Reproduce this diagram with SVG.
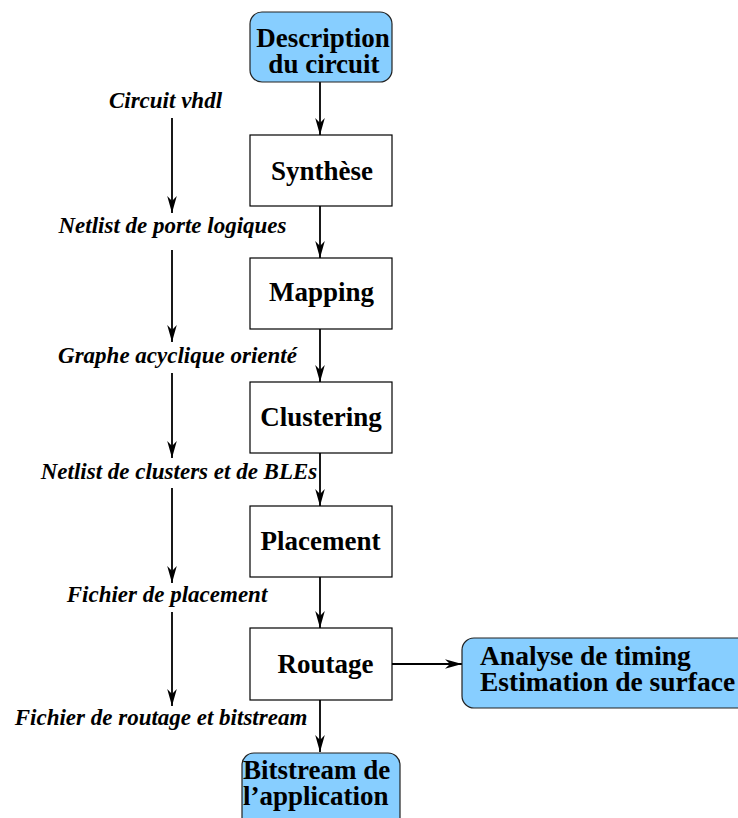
<svg xmlns="http://www.w3.org/2000/svg" width="738" height="818" viewBox="0 0 738 818">
<defs>
<style>
.box{fill:#fff;stroke:#000;stroke-width:1.2}
.rbox{fill:#87CEFF;stroke:#222;stroke-width:1.2}
.t{font-family:"Liberation Serif","Times New Roman",serif;font-weight:bold;font-size:27px;fill:#000}
.l{font-family:"Liberation Serif","Times New Roman",serif;font-weight:bold;font-style:italic;font-size:23px;fill:#000}
.c{stroke:#000;stroke-width:1.8;fill:none;marker-end:url(#ah)}
</style>
<marker id="ah" markerUnits="userSpaceOnUse" markerWidth="20" markerHeight="12" viewBox="-18 -6 19 12" refX="0" refY="0" orient="auto">
<path d="M0,0 L-17,-4.8 L-12,0 L-17,4.8 Z" fill="#000"/>
</marker>
</defs>
<rect width="738" height="818" fill="#fff"/>
<g id="connectors">
<line class="c" x1="320" y1="82" x2="320" y2="135"/>
<line class="c" x1="320" y1="206" x2="320" y2="258"/>
<line class="c" x1="320" y1="329" x2="320" y2="382"/>
<line class="c" x1="320" y1="453" x2="320" y2="506"/>
<line class="c" x1="320" y1="577" x2="320" y2="628"/>
<line class="c" x1="320" y1="700" x2="320" y2="752"/>
<line class="c" x1="392" y1="664" x2="462" y2="664"/>
<line class="c" x1="172" y1="118" x2="172" y2="213"/>
<line class="c" x1="172" y1="250" x2="172" y2="342"/>
<line class="c" x1="172" y1="373" x2="172" y2="458"/>
<line class="c" x1="172" y1="488" x2="172" y2="583"/>
<line class="c" x1="172" y1="612" x2="172" y2="706"/>
</g>
<g id="n-description">
<rect class="rbox" x="250" y="12" width="142" height="70" rx="12"/>
<text class="t" x="323" y="47" text-anchor="middle">Description</text>
<text class="t" x="324" y="73" text-anchor="middle">du circuit</text>
</g>
<g id="n-synthese">
<rect class="box" x="250" y="135" width="142" height="71"/>
<text class="t" x="322" y="180" text-anchor="middle">Synthèse</text>
</g>
<g id="n-mapping">
<rect class="box" x="250" y="258" width="142" height="71"/>
<text class="t" x="321.5" y="301" text-anchor="middle">Mapping</text>
</g>
<g id="n-clustering">
<rect class="box" x="250" y="382" width="142" height="71"/>
<text class="t" x="321" y="426" text-anchor="middle">Clustering</text>
</g>
<g id="n-placement">
<rect class="box" x="250" y="506" width="142" height="71"/>
<text class="t" x="320.5" y="550" text-anchor="middle">Placement</text>
</g>
<g id="n-routage">
<rect class="box" x="250" y="628" width="142" height="72"/>
<text class="t" x="325.5" y="673" text-anchor="middle">Routage</text>
</g>
<g id="n-analyse">
<rect class="rbox" x="462" y="638" width="290" height="70" rx="12"/>
<text class="t" x="480" y="665" style="font-size:27.5px">Analyse de timing</text>
<text class="t" x="480" y="691" style="font-size:27.5px">Estimation de surface</text>
</g>
<g id="n-bitstream">
<rect class="rbox" x="242" y="753" width="158" height="90" rx="12"/>
<text class="t" x="243" y="779">Bitstream de</text>
<text class="t" x="243" y="805">l’application</text>
</g>
<g id="labels">
<text class="l" x="165.5" y="108" text-anchor="middle">Circuit vhdl</text>
<text class="l" x="172.5" y="233" text-anchor="middle">Netlist de porte logiques</text>
<text class="l" x="177.5" y="363" text-anchor="middle">Graphe acyclique orienté</text>
<text class="l" x="179" y="479" text-anchor="middle">Netlist de clusters et de BLEs</text>
<text class="l" x="167" y="602" text-anchor="middle">Fichier de placement</text>
<text class="l" x="161" y="725" text-anchor="middle">Fichier de routage et bitstream</text>
</g>
</svg>
